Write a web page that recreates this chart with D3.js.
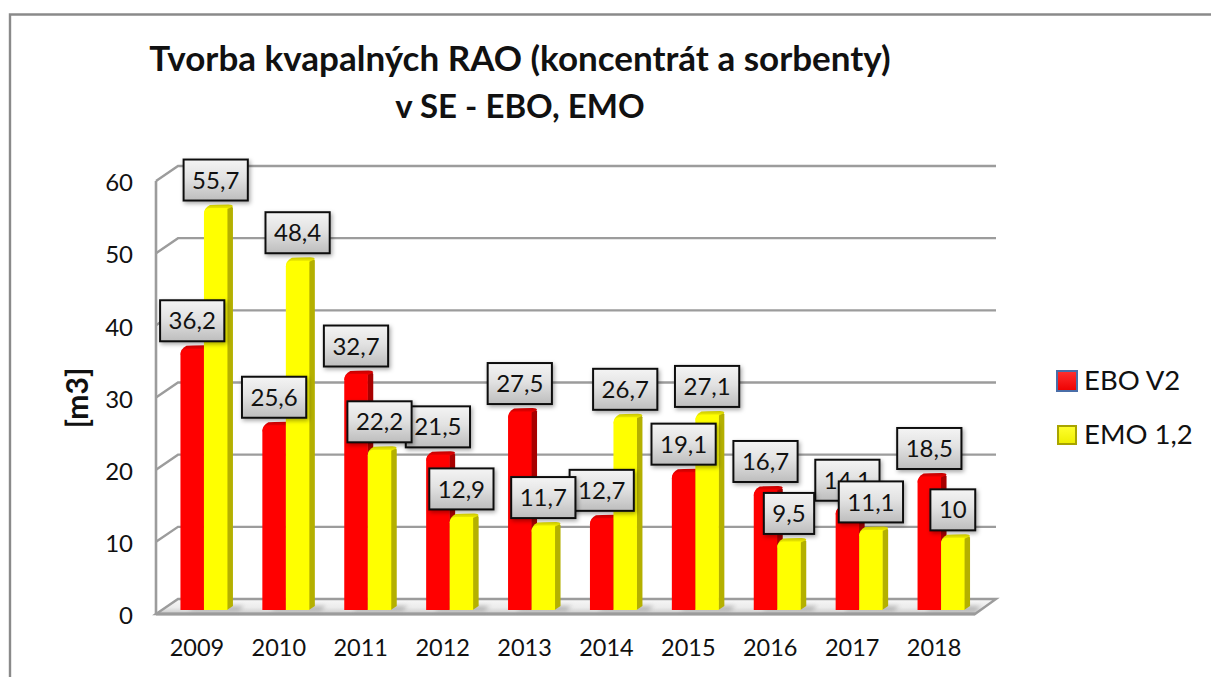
<!DOCTYPE html>
<html><head><meta charset="utf-8">
<script src="https://cdn.jsdelivr.net/npm/d3@7"></script>
<style>
html,body{margin:0;padding:0;background:#fff;overflow:hidden}
svg{display:block}
text{font-family:Lato,"Open Sans",sans-serif;fill:#111}
</style></head><body>
<svg id="c" width="1211" height="677"></svg>
<script>
const years = ["2009","2010","2011","2012","2013","2014","2015","2016","2017","2018"];
const seriesNames = ["EBO V2","EMO 1,2"];
const eboV2 = [36.2,25.6,32.7,21.5,27.5,12.7,19.1,16.7,14.1,18.5];
const emo12 = [55.7,48.4,22.2,12.9,11.7,26.7,27.1,9.5,11.1,10];
const yTicks = [0,10,20,30,40,50,60];
const titleLines = ["Tvorba kvapalných RAO (koncentrát a sorbenty)","v SE - EBO, EMO"];
const yTitle = "[m3]";

const svg = d3.select("#c");
const defs = svg.append("defs");
function grad(id, stops, dir){
  const g = defs.append("linearGradient").attr("id",id)
    .attr("x1",0).attr("y1",0).attr("x2",dir==="h"?1:0).attr("y2",dir==="h"?0:1);
  stops.forEach(s=>g.append("stop").attr("offset",s[0]).attr("stop-color",s[1]));
}
grad("boxG",[[0,"#f4f4f4"],[0.45,"#e2e2e2"],[1,"#bdbdbd"]]);
grad("floorG",[[0,"#f7f7f7"],[0.55,"#ececec"],[1,"#c8c8c8"]]);
grad("topR",[[0,"#d40000"],[1,"#ff0000"]]);
grad("topY",[[0,"#dcd800"],[1,"#ffff00"]]);
grad("legR",[[0,"#ff3030"],[1,"#ee0000"]]);
grad("legY",[[0,"#ffff30"],[1,"#eeee00"]]);
const fs = defs.append("filter").attr("id","sh").attr("x","-20%").attr("y","-20%").attr("width","150%").attr("height","150%");
fs.append("feDropShadow").attr("dx",1.5).attr("dy",2).attr("stdDeviation",2).attr("flood-color","#000").attr("flood-opacity",0.35);
const fb = defs.append("filter").attr("id","blur").attr("x","-30%").attr("y","-100%").attr("width","160%").attr("height","300%");
fb.append("feGaussianBlur").attr("stdDeviation",2.2);

// chart frame (top and left edges only are visible)
svg.append("path").attr("d","M10,677V14.5H1211").attr("fill","none").attr("stroke","#8a8a8a").attr("stroke-width",2.4);

// layout
const L=156, R=975, dx=22, dy=15;
const x = d3.scaleBand().domain(years).range([L,R]);
const yAxisScale = d3.scaleLinear().domain([0,60]).range([614,181]);
const yBack = v => yAxisScale(v)-dy;
const yBar = d3.scaleLinear().domain([0,60]).range([610,177]);
const groupW = 47, groupShift = 7;
const x1 = d3.scaleBand().domain(seriesNames).range([0,groupW]);
const barX = (yr,s) => x(yr)+(x.step()-groupW)/2+groupShift+x1(s);

// walls / grid
const grid = svg.append("g").attr("fill","none").attr("stroke","#9c9c9c").attr("stroke-width",2.4);
grid.selectAll("path.g").data(yTicks.filter(t=>t>0)).join("path").attr("class","g")
  .attr("d",t=>`M${L},${yAxisScale(t)}L${L+dx},${yBack(t)}H${R+dx-1}`);
svg.append("path").attr("d",`M${L},${yAxisScale(0)}L${L+dx},${yBack(0)}H${R+dx-1}L${R},${yAxisScale(0)}Z`)
  .attr("fill","url(#floorG)").attr("stroke","#9c9c9c").attr("stroke-width",2.4);
svg.append("line").attr("x1",L).attr("x2",L).attr("y1",yAxisScale(0)).attr("y2",yAxisScale(60)).attr("stroke","#9c9c9c").attr("stroke-width",2.6);
svg.append("line").attr("x1",L).attr("x2",R).attr("y1",yAxisScale(0)).attr("y2",yAxisScale(0)).attr("stroke","#9c9c9c").attr("stroke-width",3);

// axes
const yAx = svg.append("g").attr("transform",`translate(${L},2)`)
  .call(d3.axisLeft(yAxisScale).tickValues(yTicks).tickSize(0).tickPadding(23));
yAx.select(".domain").remove();
yAx.selectAll("text").style("font-size","24px");
const xAx = svg.append("g").attr("transform","translate(0,625)")
  .call(d3.axisBottom(x).tickSize(0).tickPadding(14));
xAx.select(".domain").remove();
xAx.selectAll("text").style("font-size","23.5px");

// series
const series = [
 {name:seriesNames[0],vals:eboV2,face:"#ff0000",side:"#a80000",top:"url(#topR)"},
 {name:seriesNames[1],vals:emo12,face:"#ffff00",side:"#b4b000",top:"url(#topY)"}
];
// floor shadows
const shadow = svg.append("g").attr("filter","url(#blur)").attr("fill","#8a8a8a").attr("opacity",0.55);
shadow.selectAll("path").data(years).join("path")
  .attr("d",yr=>{const a=barX(yr,seriesNames[0]);return `M${a+8},${yBar(0)+1}h${groupW+3}l6,-5h-${groupW+3}z`;});

const barW = x1.bandwidth(), sideW=5.5, capH=3.5;
const bars = svg.append("g");
years.forEach((yr,i)=>{
  series.forEach(s=>{
    const g = bars.append("g");
    const a = barX(yr,s.name), t = yBar(s.vals[i]), b = yBar(0);
    // side face
    g.append("path").attr("d",`M${a+barW-0.5},${t-1}L${a+barW+sideW-1},${t-capH+2}Q${a+barW+sideW},${t-capH+3} ${a+barW+sideW},${t}V${b-4}L${a+barW-0.5},${b}Z`).attr("fill",s.side);
    // cap
    g.append("path").attr("d",`M${a},${t+6}Q${a},${t} ${a+6},${t-capH+0.5}Q${a+9},${t-capH} ${a+barW+1},${t-capH}Q${a+barW+sideW},${t-capH} ${a+barW+sideW},${t-capH+2}L${a+barW},${t+1}Z`).attr("fill",s.top);
    // front face
    g.append("path").attr("d",`M${a},${b}V${t+6}Q${a},${t+0.5} ${a+6},${t}H${a+barW}V${b}Z`).attr("fill",s.face);
  });
});

// value labels: all of the first series, then all of the second
const fmt = v => String(v).replace(".",",");
const labels = svg.append("g");
series.forEach(s=>{
  s.vals.forEach((v,i)=>{
    const cx = barX(years[i],s.name)+barW/2, cy = yBar(v)-28;
    const g = labels.append("g").attr("transform",`translate(${cx},${cy})`);
    const rect = g.append("rect");
    const txt = g.append("text").attr("text-anchor","middle").attr("dy","0.36em").style("font-size","24px").text(fmt(v));
    const w = txt.node().getComputedTextLength()+17;
    rect.attr("x",-w/2).attr("y",-20.5).attr("width",w).attr("height",41)
      .attr("fill","url(#boxG)").attr("stroke","#111").attr("stroke-width",2).attr("filter","url(#sh)");
  });
});

// titles
svg.append("g").selectAll("text").data(titleLines).join("text")
  .attr("x",520).attr("y",(d,i)=>71+i*47).attr("text-anchor","middle")
  .style("font-size",(d,i)=>i?"33px":"35px").style("font-weight","700").text(d=>d);
svg.append("text").attr("transform","translate(88,398) rotate(-90)").attr("text-anchor","middle")
  .style("font-size","30px").style("font-weight","700").text(yTitle);

// legend
const leg = svg.append("g");
const legY = d3.scalePoint().domain(seriesNames).range([380,434]);
leg.selectAll("rect").data(seriesNames).join("rect")
  .attr("x",(d,i)=>i?1058:1057).attr("y",(d,i)=>legY(d)-(i?8:9)).attr("width",(d,i)=>i?18:20).attr("height",(d,i)=>i?18:20)
  .attr("fill",(d,i)=>i?"url(#legY)":"url(#legR)")
  .attr("stroke",(d,i)=>i?"#a8a400":"#4a6ea8").attr("stroke-width",2);
leg.selectAll("text").data(seriesNames).join("text")
  .attr("x",1084).attr("y",d=>legY(d)).attr("dy","0.36em").style("font-size","27.5px").text(d=>d);
</script></body></html>
